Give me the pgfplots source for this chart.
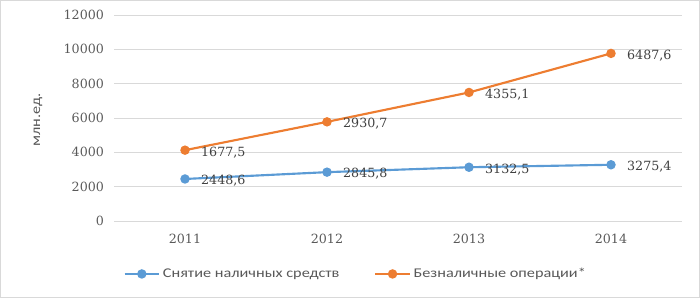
\documentclass[border=0pt]{standalone}
\usepackage{pgfplots}
\pgfplotsset{compat=1.18}
\usepackage{fontspec}
\setmainfont{DejaVu Serif}
\newfontfamily\lgfont[FakeStretch=1.22]{Carlito}
\definecolor{cblue}{HTML}{5B9BD5}
\definecolor{corange}{HTML}{ED7D31}
\definecolor{tgray}{HTML}{595959}
\definecolor{dgray}{HTML}{404040}
\definecolor{gridc}{HTML}{D9D9D9}
\begin{document}
\begin{tikzpicture}
\draw[gridc, line width=0.75pt] (0.375pt,0.375pt) rectangle (524.625pt,223.125pt);
\begin{axis}[
  at={(85.5pt,57.75pt)}, anchor=south west,
  scale only axis, width=426pt, height=154.5pt,
  xmin=-0.5, xmax=3.5, ymin=0, ymax=12000,
  xtick={0,1,2,3}, xticklabels={2011,2012,2013,2014},
  ytick={0,2000,...,12000},
  scaled y ticks=false,
  axis line style={draw=none}, tick style={draw=none},
  ymajorgrids, grid style={gridc, line width=0.75pt},
  clip=false,
  /pgf/number format/assume math mode=true,
  /pgf/number format/1000 sep={},
  tick label style={font=\fontsize{9.5}{11}\selectfont, text=tgray},
  xticklabel style={yshift=-6pt},
  yticklabel style={xshift=-4pt},
  stack plots=y,
  point meta=explicit symbolic,
  nodes near coords={\pgfplotspointmeta},
  every node near coord/.append style={anchor=west, xshift=8pt, yshift=-1.5pt,
     font=\fontsize{9.5}{11}\selectfont, text=dgray},
  legend columns=2,
  legend style={at={(rel axis cs:0.426,-0.257)}, anchor=center, draw=none,
     font=\lgfont\fontsize{10}{12}\selectfont, text=tgray,
     /tikz/every even column/.append style={column sep=24pt}},
  legend image code/.code={\draw[mark repeat=2,mark phase=2] plot coordinates {(0pt,0pt) (13pt,0pt) (26pt,0pt)};},
]
\addplot[cblue, line width=1.6pt, mark=*, mark size=2.7pt, mark options={solid, fill=cblue}]
  coordinates {(0,2448.6) [2448,6] (1,2845.8) [2845,8] (2,3132.5) [3132,5] (3,3275.4) [3275,4]};
\addlegendentry{Снятие наличных средств}
\addplot[corange, line width=1.6pt, mark=*, mark size=2.7pt, mark options={solid, fill=corange}]
  coordinates {(0,1677.5) [1677,5] (1,2930.7) [2930,7] (2,4355.1) [4355,1] (3,6487.6) [6487,6]};
\addlegendentry{Безналичные операции*}
\node[rotate=90, font=\lgfont\fontsize{10}{12}\selectfont, text=tgray] at (rel axis cs:-0.134,0.49) {млн.ед.};
\end{axis}
\end{tikzpicture}
\end{document}
